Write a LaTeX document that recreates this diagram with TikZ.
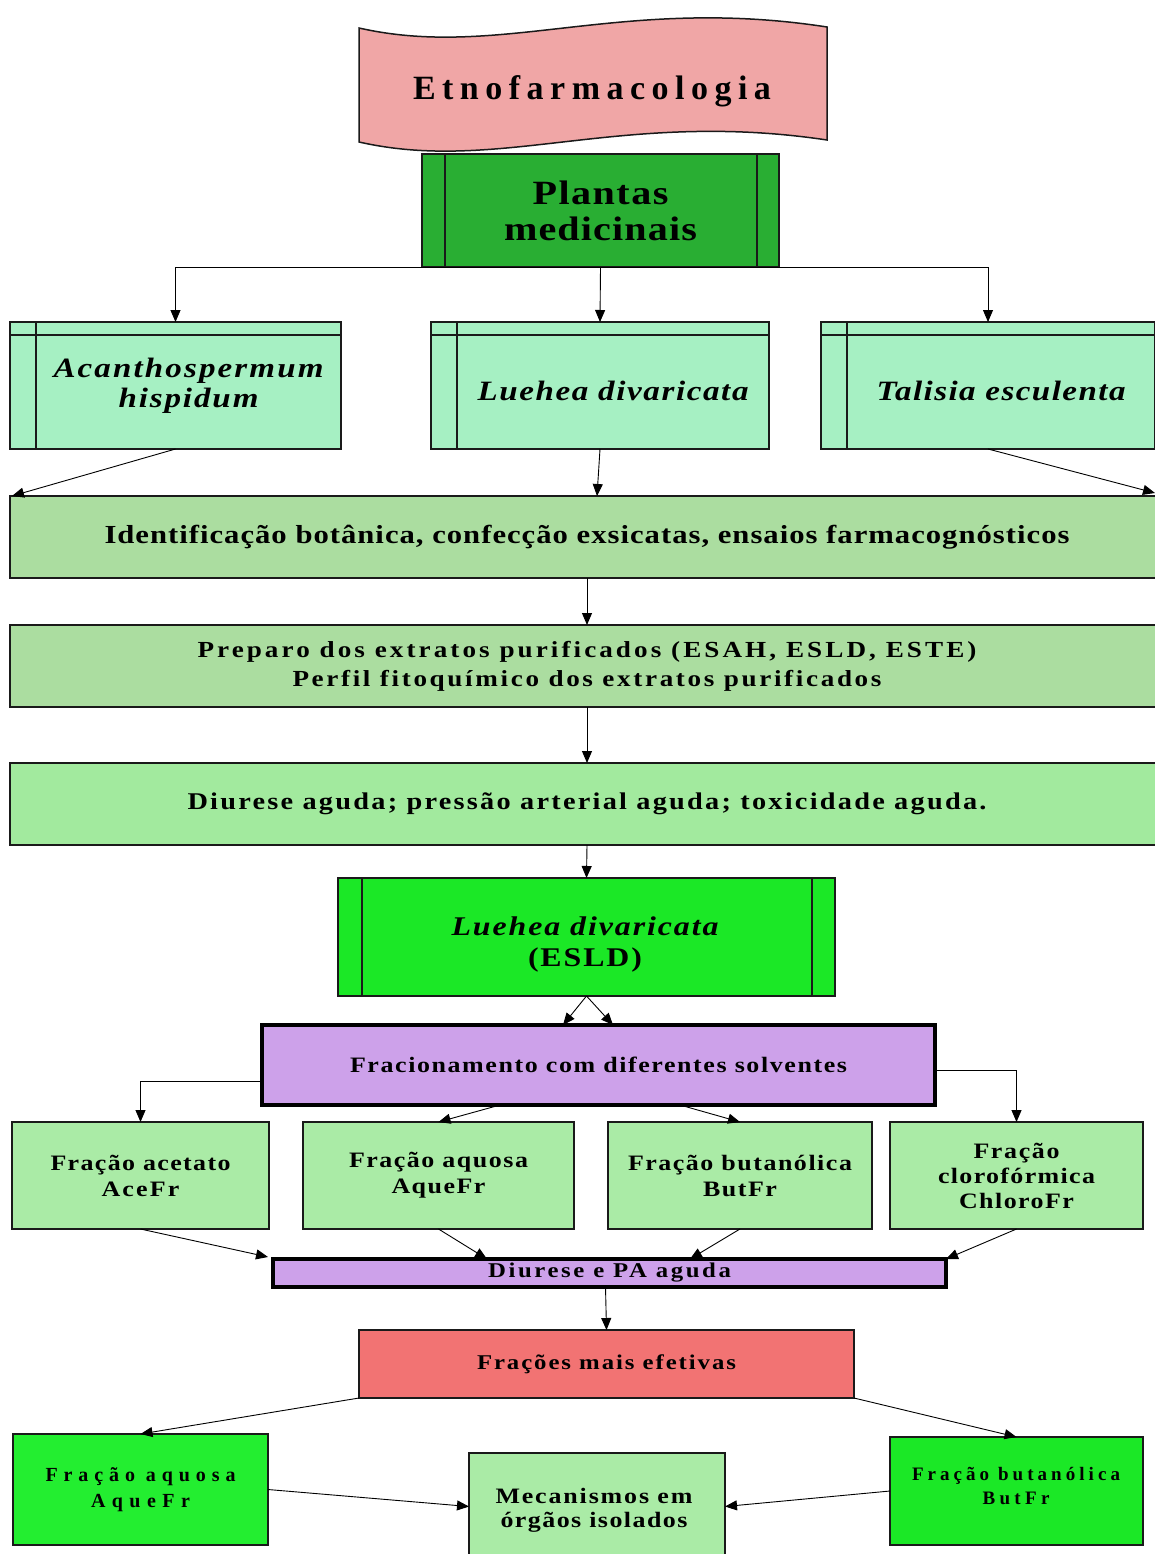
\documentclass[tikz,border=0pt]{standalone}
\usepackage{fontspec}
\setmainfont{Liberation Serif}
\newfontfamily\wide[FakeStretch=1.18]{Liberation Serif}
\usetikzlibrary{arrows.meta,calc}
\definecolor{bannerc}{HTML}{F0A6A6}
\definecolor{plantc}{HTML}{29AE33}
\definecolor{specc}{HTML}{A6F0C3}
\definecolor{identc}{HTML}{ABDDA0}
\definecolor{diurc}{HTML}{A2EA9E}
\definecolor{esldc}{HTML}{1BE826}
\definecolor{fracc}{HTML}{CDA1EA}
\definecolor{fracbox}{HTML}{AAEBA6}
\definecolor{redc}{HTML}{F27373}
\definecolor{aqbc}{HTML}{23EE30}
\definecolor{bdr}{HTML}{1A1A1A}
\newcommand\fitline[2]{%
  \sbox0{#2}\sbox2{\addfontfeatures{LetterSpace=10}#2}%
  \pgfmathsetmacro\lsval{10*(#1-\the\wd0)/(\the\wd2-\the\wd0)}%
  {\edef\tmpls{\noexpand\addfontfeatures{LetterSpace=\lsval}}\tmpls#2}}
\newcommand\fs[2]{\fontsize{#1pt}{#2pt}\selectfont}
\begin{document}
\begin{tikzpicture}[x=1pt,y=-1pt,
  box/.style={draw=bdr, line width=1.5pt, inner sep=0pt, outer sep=0pt, align=center},
  thickbox/.style={box, line width=4pt, draw=black},
  txt/.style={inner sep=0pt, align=center},
  arr/.style={-{Triangle[length=12pt,width=10pt]}, line width=0.9pt, black},
  ln/.style={draw=bdr, line width=1.5pt}]
\clip (0,0) rectangle (1155,1554);
\fill[white] (0,0) rectangle (1155,1554);

% banner
\draw[fill=bannerc, draw=bdr, line width=1.5pt]
  (359,28) .. controls (500,60) and (620,-5) .. (827,27)
  -- (827,140) .. controls (620,109) and (500,174) .. (359,142) -- cycle;
\node[txt, font=\bfseries\fs{34}{38}] (etno) at (592,91) {\fitline{358}{Etnofarmacologia}};

% plantas medicinais
\node[box, fill=plantc, minimum width=357pt, minimum height=113pt, font=\wide\bfseries\fs{34}{36}] (plantas) at (600.5,210.5)
  {\fitline{136}{Plantas}\\\fitline{193}{medicinais}};
\draw[ln] ([xshift=23pt]plantas.north west) -- ([xshift=23pt]plantas.south west);
\draw[ln] ([xshift=-22pt]plantas.north east) -- ([xshift=-22pt]plantas.south east);

% species
\node[box, fill=specc, minimum width=331pt, minimum height=127pt] (acanth) at (175.5,385.5) {};
\node[box, fill=specc, minimum width=338pt, minimum height=127pt] (luehea) at (600,385.5) {};
\node[box, fill=specc, minimum width=334pt, minimum height=127pt] (talisia) at (988,385.5) {};
\foreach \n/\v in {acanth/26, luehea/26, talisia/26}{
  \draw[ln] ([yshift=-13pt]\n.north west) -- ([yshift=-13pt]\n.north east);
  \draw[ln] ([xshift=\v pt]\n.north west) -- ([xshift=\v pt]\n.south west);
}
\node[txt, font=\wide\bfseries\itshape\fs{28}{30}] (acanthT) at (188.5,386) {\fitline{270}{Acanthospermum}\\\fitline{140}{hispidum}};
\node[txt, font=\wide\bfseries\itshape\fs{28}{30}] (lueheaT) at (613,391) {\fitline{271}{Luehea divaricata}};
\node[txt, font=\wide\bfseries\itshape\fs{28}{30}] (talisiaT) at (1001,391) {\fitline{249}{Talisia esculenta}};

% wide boxes
\node[box, fill=identc, minimum width=1154pt, minimum height=82pt, font=\wide\bfseries\fs{26}{28}] (ident) at (587,537)
  {\fitline{965}{Identificação botânica, confecção exsicatas, ensaios farmacognósticos}};
\node[box, fill=identc, minimum width=1154pt, minimum height=82pt, font=\wide\bfseries\fs{23}{29}] (prep) at (587,666)
  {\fitline{779}{Preparo dos extratos purificados (ESAH, ESLD, ESTE)}\\\fitline{589}{Perfil fitoquímico dos extratos purificados}};
\node[box, fill=diurc, minimum width=1154pt, minimum height=82pt, font=\wide\bfseries\fs{24}{26}] (diur) at (587,804)
  {\fitline{799}{Diurese aguda; pressão arterial aguda; toxicidade aguda.}};

% ESLD
\node[box, fill=esldc, minimum width=497pt, minimum height=118pt] (esld) at (586.5,937) {};
\draw[ln] ([xshift=24pt]esld.north west) -- ([xshift=24pt]esld.south west);
\draw[ln] ([xshift=-23pt]esld.north east) -- ([xshift=-23pt]esld.south east);
\node[txt, font=\wide\bfseries\fs{27}{31}] (esldT) at (585,944)
  {{\itshape\fitline{267}{Luehea divaricata}}\\\fitline{114}{(ESLD)}};

% fracionamento
\node[thickbox, fill=fracc, minimum width=673pt, minimum height=80pt, font=\wide\bfseries\fs{22}{25}] (frac) at (598.5,1065)
  {\fitline{497}{Fracionamento com diferentes solventes}};

% fractions
\node[box, fill=fracbox, minimum width=257pt, minimum height=107pt, font=\wide\bfseries\fs{22}{26}] (ace) at (140.5,1175.5)
  {\fitline{180}{Fração acetato}\\\fitline{78}{AceFr}};
\node[box, fill=fracbox, minimum width=271pt, minimum height=107pt, font=\wide\bfseries\fs{22}{26}] (aque) at (438.5,1175.5)
  {\fitline{179}{Fração aquosa}\\\fitline{94}{AqueFr}};
\node[box, fill=fracbox, minimum width=264pt, minimum height=107pt, font=\wide\bfseries\fs{22}{26}] (but) at (740,1175.5)
  {\fitline{224}{Fração butanólica}\\\fitline{74}{ButFr}};
\node[box, fill=fracbox, minimum width=253pt, minimum height=107pt, font=\wide\bfseries\fs{22}{25}] (chloro) at (1016.5,1175.5)
  {\fitline{86}{Fração}\\\fitline{157}{clorofórmica}\\\fitline{115}{ChloroFr}};

% PA
\node[thickbox, fill=fracc, minimum width=673pt, minimum height=28pt, font=\wide\bfseries\fs{21}{24}] (pa) at (609.5,1273)
  {\fitline{243}{Diurese e PA aguda}};

% red
\node[box, fill=redc, minimum width=495pt, minimum height=68pt, font=\wide\bfseries\fs{21}{24}] (red) at (606.5,1364)
  {\fitline{259}{Frações mais efetivas}};

% bottom
\node[box, fill=aqbc, minimum width=255pt, minimum height=111pt, font=\bfseries\fs{20}{26}] (aqb) at (140.5,1489.5)
  {\fitline{190}{Fração aquosa}\\\fitline{99}{AqueFr}};
\node[box, fill=esldc, minimum width=253pt, minimum height=108pt] (butb) at (1016.5,1491) {};
\node[txt, font=\bfseries\fs{19}{24}] (butbT) at (1016,1486)
  {\fitline{208}{Fração butanólica}\\\fitline{67}{ButFr}};
\node[box, fill=fracbox, minimum width=256pt, minimum height=107pt] (mec) at (597,1506.5) {};
\node[txt, font=\wide\bfseries\fs{22}{24}] (mecT) at (594,1510)
  {\fitline{197}{Mecanismos em}\\\fitline{187}{órgãos isolados}};

% connectors
\draw[arr] (plantas.south) -| (acanth.north);
\draw[arr] (plantas.south) -- (luehea.north);
\draw[arr] (plantas.south) -| (talisia.north);
\draw[arr] (acanth.south) -- ([xshift=2pt]ident.north west);
\draw[arr] (luehea.south) -- ([xshift=10pt]ident.north);
\draw[arr] (talisia.south) -- ([xshift=-9pt,yshift=3pt]ident.north east);
\draw[arr] (ident.south) -- (prep.north);
\draw[arr] (prep.south) -- (diur.north);
\draw[arr] (diur.south) -- (esld.north);
\draw[arr] (esld.south) -- ([xshift=-35.5pt]frac.north);
\draw[arr] (esld.south) -- ([xshift=14.5pt]frac.north);
\draw[arr] ([yshift=-16pt]frac.west) -| (ace.north);
\draw[arr] ([yshift=-5pt]frac.east) -| (chloro.north);
\draw[arr] ([xshift=-98.5pt]frac.south) -- (aque.north);
\draw[arr] ([xshift=81.5pt]frac.south) -- (but.north);
\draw[arr] (ace.south) -- ([xshift=-5pt,yshift=2pt]pa.north west);
\draw[arr] (aque.south) -- ([xshift=214pt]pa.north west);
\draw[arr] (but.south) -- ([xshift=417pt]pa.north west);
\draw[arr] (chloro.south) -- (pa.north east);
\draw[arr] ([xshift=-4pt]pa.south) -- (red.north);
\draw[arr] (red.south west) -- (aqb.north);
\draw[arr] (red.south east) -- (butb.north);
\draw[arr] (aqb.east) -- (mec.west);
\draw[arr] (butb.west) -- (mec.east);
\end{tikzpicture}
\end{document}
